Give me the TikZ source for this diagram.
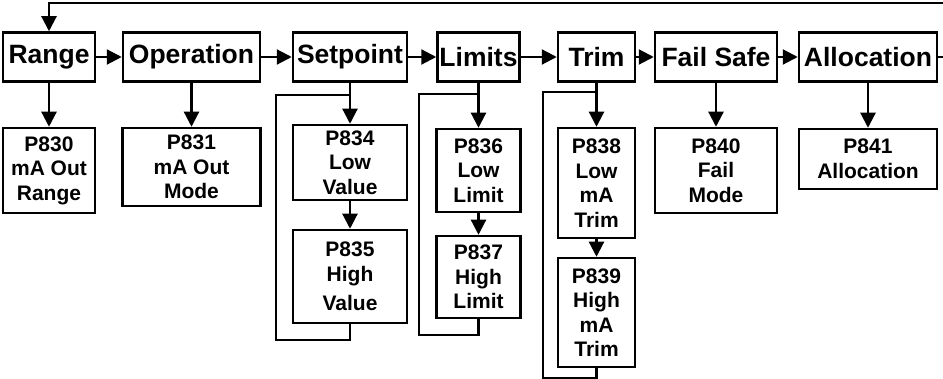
\documentclass[tikz,border=0pt]{standalone}
\usepackage{fontspec}
\setmainfont{Liberation Sans}
\usetikzlibrary{arrows.meta}

\begin{document}
\begin{tikzpicture}[
  x=1pt, y=-1pt,
  menu/.style={draw, line width=2.5pt, align=center, inner sep=1pt, minimum height=49pt, font=\fontsize{26.5}{30}\selectfont\bfseries},
  pbox/.style={draw, line width=2.5pt, align=center, inner sep=1pt, font=\fontsize{21}{24.5}\selectfont\bfseries},
  ar/.style={-{Triangle[length=15pt, width=15pt]}, line width=2.2pt},
  ln/.style={line width=2.2pt},
]
\useasboundingbox (0,0) rectangle (943,379);
% menu row
\node[menu, minimum width=92pt] (range) at (49,57) {Range};
\node[menu, minimum width=137pt] (oper) at (191.5,57) {Operation};
\node[menu, minimum width=114pt] (setp) at (350,57) {Setpoint};
\node[menu, minimum width=82pt] (lim) at (478.5,57) {Limits};
\node[menu, minimum width=77pt] (trim) at (596.5,57) {Trim};
\node[menu, minimum width=122pt] (fail) at (716,57) {Fail Safe};
\node[menu, minimum width=138pt] (alloc) at (868,57) {Allocation};
% parameters
\node[pbox, minimum width=92pt, minimum height=85pt] (p830) at (49,170.5) {P830\\mA Out\\Range};
\node[pbox, minimum width=138pt, minimum height=78pt] (p831) at (191.5,167) {P831\\mA Out\\Mode};
\node[pbox, minimum width=114pt, minimum height=75pt] (p834) at (350,162.5) {P834\\Low\\Value};
\node[pbox, minimum width=114pt, minimum height=93pt] (p835) at (350,276.5) {P835\\High\\[5pt]Value};
\node[pbox, minimum width=84pt, minimum height=83pt] (p836) at (478.5,170.5) {P836\\Low\\Limit};
\node[pbox, minimum width=84pt, minimum height=82pt] (p837) at (478.5,277) {P837\\High\\Limit};
\node[pbox, minimum width=77pt, minimum height=110pt] (p838) at (596.5,183) {P838\\Low\\mA\\Trim};
\node[pbox, minimum width=77pt, minimum height=109pt] (p839) at (596.5,312.5) {P839\\High\\mA\\Trim};
\node[pbox, minimum width=122pt, minimum height=85pt] (p840) at (716,170.5) {P840\\Fail\\Mode};
\node[pbox, minimum width=138pt, minimum height=60pt] (p841) at (868,159) {P841\\Allocation};
% connectors
\draw[ar] (range)--(oper); \draw[ar] (oper)--(setp); \draw[ar] (setp)--(lim);
\draw[ar] (lim)--(trim); \draw[ar] (trim)--(fail); \draw[ar] (fail)--(alloc);
\draw[ar] (alloc.east) -- (952,57) -- (952,3) -| (range.north);
\draw[ar] (range)--(p830); \draw[ar] (oper)--(p831); \draw[ar] (setp)--(p834);
\draw[ar] (p834)--(p835); \draw[ar] (lim)--(p836); \draw[ar] (p836)--(p837);
\draw[ar] (trim)--(p838); \draw[ar] (p838)--(p839); \draw[ar] (fail)--(p840);
\draw[ar] (alloc)--(p841);
% loops back
\draw[ln] (p835.south) |- (276,340) |- (350,95);
\draw[ln] (p837.south) |- (419,335) |- (478.5,94);
\draw[ln] (p839.south) |- (543,378) |- (596.5,92);
\end{tikzpicture}
\end{document}
